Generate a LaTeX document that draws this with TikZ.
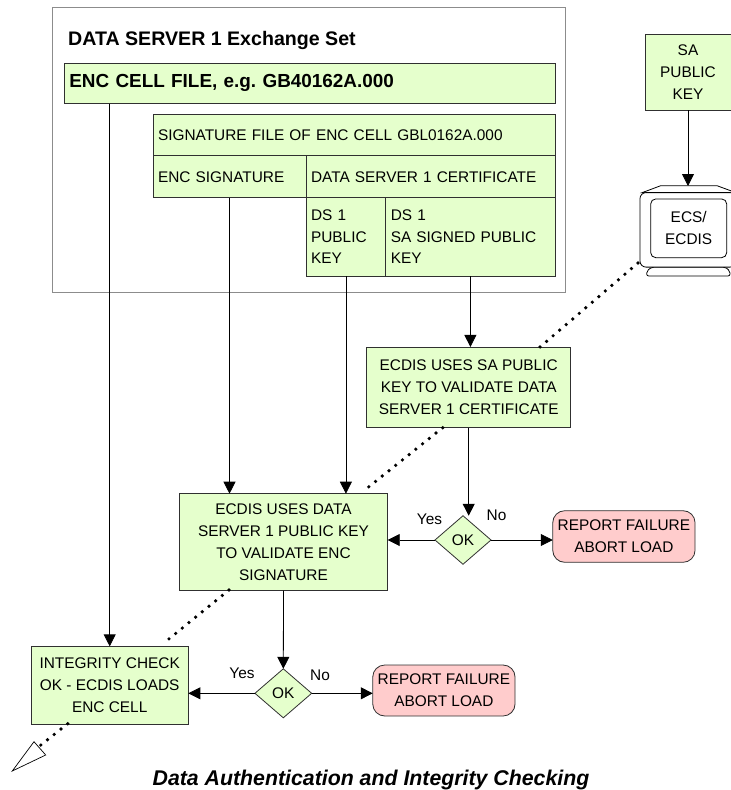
\documentclass[tikz,border=0pt]{standalone}
\usepackage{fontspec}
\setmainfont{Liberation Sans}
\frenchspacing
\usetikzlibrary{arrows.meta,positioning,shapes.geometric}
\definecolor{boxgreen}{HTML}{E5FFCC}
\definecolor{boxpink}{HTML}{FFCCCC}
\definecolor{edgegray}{HTML}{303030}
\tikzset{font=\fontsize{15.4}{21.7}\selectfont}
\tikzstyle{centerbox}=[rectangle,draw=edgegray,fill=boxgreen,line width=0.8pt,outer sep=0pt,inner sep=0pt,align=center]
\tikzstyle{leftbox}=[centerbox,align=left,inner xsep=5pt]
\tikzstyle{failbox}=[centerbox,fill=boxpink,rounded corners=12pt]
\tikzstyle{okdiamond}=[diamond,draw=edgegray,fill=boxgreen,line width=0.8pt,outer sep=0pt,inner sep=0pt]
\tikzstyle{answer}=[inner sep=0pt]
\tikzstyle{sightline}=[line width=3.7pt,line cap=round,dash pattern=on 0pt off 8.6pt]
\begin{document}
\begin{tikzpicture}
  [x=1pt,y=-1pt,>={Triangle[length=12pt,width=12pt]}]
\clip (0,0) rectangle (731,790);
% exchange set frame
\node [draw=black!45,line width=0.7pt,minimum width=512.5pt,minimum height=285pt,outer sep=0pt] (frame) at (309,149.5) {};
\node [anchor=base west,inner sep=0pt,font=\fontsize{19.6}{22}\selectfont\bfseries] (title) at (68,45) {DATA SERVER 1 Exchange Set};
\node [style=leftbox,text width=480.7pt,minimum height=40.7pt,font=\fontsize{18.9}{22}\selectfont\bfseries] (cellfile) at (309.7,83.3) {ENC CELL FILE, e.g. GB40162A.000};
\node [style=leftbox,text width=392pt,minimum height=41.7pt] (sigfile) at (354,134.8) {SIGNATURE FILE OF ENC CELL GBL0162A.000};
\node [style=leftbox,text width=143pt,minimum height=42pt] (encsig) at (229.5,176.8) {ENC SIGNATURE};
\node [style=leftbox,text width=239pt,minimum height=42pt] (cert) at (430.5,176.8) {DATA SERVER 1 CERTIFICATE};
\node [style=leftbox,text width=69.7pt,minimum height=78.5pt] (dskey) at (345.9,236.8) {DS 1\\PUBLIC\\KEY};
\node [style=leftbox,text width=159.3pt,minimum height=78.5pt] (sasigned) at (470.4,236.8) {DS 1\\SA SIGNED PUBLIC\\KEY};
% SA key and the monitor
\node [style=centerbox,minimum width=86pt,minimum height=76pt] (sakey) at (688,72) {SA\\PUBLIC\\KEY};
\coordinate (monitortop) at (688,186);
\draw [draw=black,line width=0.8pt,fill=white,rounded corners=2pt] (646.7,276) -- (646.7,271) -- (652,267) -- (725,267) -- (730,271) -- (730,276) -- cycle;
\draw [draw=black,line width=0.8pt,fill=white] (642,192.7) -- (660.7,185.7) -- (717,185.7) -- (736,192.7) -- cycle;
\node [draw=black,line width=0.8pt,fill=white,rounded corners=6pt,minimum width=96pt,minimum height=74.5pt,outer sep=0pt] (monitor) at (688,229.85) {};
\node [draw=black,line width=0.8pt,rounded corners=5pt,minimum width=76pt,minimum height=58.7pt,outer sep=0pt,inner sep=0pt,align=center] (screen) at (688.7,228.3) {ECS/\\ECDIS};
% checks
\node [style=centerbox,minimum width=204pt,minimum height=80.7pt] (sacheck) at (468.7,387.3) {ECDIS USES SA PUBLIC\\KEY TO VALIDATE DATA\\SERVER 1 CERTIFICATE};
\node [style=centerbox,minimum width=208.4pt,minimum height=97pt] (dscheck) at (283.5,542.2) {ECDIS USES DATA\\SERVER 1 PUBLIC KEY\\TO VALIDATE ENC\\SIGNATURE};
\node [style=centerbox,minimum width=157.3pt,minimum height=77.7pt] (intcheck) at (109.7,685.2) {INTEGRITY CHECK\\OK - ECDIS LOADS\\ENC CELL};
\node [style=okdiamond,minimum width=56pt,minimum height=48.5pt] (okone) at (463,540) {OK};
\node [style=okdiamond,minimum width=56.7pt,minimum height=49pt] (oktwo) at (283.3,693.3) {OK};
\node [style=failbox,minimum width=142.3pt,minimum height=51.6pt] (reportone) at (623.9,536.5) {REPORT FAILURE\\ABORT LOAD};
\node [style=failbox,minimum width=142.3pt,minimum height=51pt] (reporttwo) at (443.9,690.5) {REPORT FAILURE\\ABORT LOAD};
\node [style=answer] (yesone) at (429.5,519) {Yes};
\node [style=answer] (noone) at (496.5,515) {No};
\node [style=answer] (yestwo) at (242,673.5) {Yes};
\node [style=answer] (notwo) at (320,675) {No};
\path[->,line width=0.8pt]
(sakey.south) edge (monitortop)
(cellfile.south -| intcheck.north) edge (intcheck.north)
(encsig.south) edge (encsig.south |- dscheck.north)
(dskey.south) edge (dskey.south |- dscheck.north)
(sasigned.south) edge (sasigned.south |- sacheck.north)
(sacheck.south) edge (sacheck.south |- okone.north)
(dscheck.south) edge (oktwo.north)
(okone.west) edge (okone.west -| dscheck.east)
(okone.east) edge (okone.east -| reportone.west)
(oktwo.west) edge (oktwo.west -| intcheck.east)
(oktwo.east) edge (oktwo.east -| reporttwo.west);
% line of sight
\coordinate (sighta) at (638,263);
\coordinate (sightb) at (540,347);
\coordinate (sightc) at (442.7,427.7);
\coordinate (sightd) at (362.7,491.7);
\coordinate (sighte) at (229,590);
\coordinate (sightf) at (162.7,644);
\coordinate (sightg) at (67.7,723.7);
\coordinate (sighth) at (40,745.7);
\draw [style=sightline] (sighta) -- (sightb);
\draw [style=sightline] (sightc) -- (sightd);
\draw [style=sightline] (sighte) -- (sightf);
\draw [style=sightline] (sightg) -- (sighth);
\draw [line width=0.7pt,fill=white] (12.3,771) -- (34,741.7) -- (45.7,755) -- cycle;
\node [anchor=base,inner sep=0pt,font=\fontsize{21.3}{24}\selectfont\bfseries\itshape] (caption) at (371,785) {Data Authentication and Integrity Checking};
\end{tikzpicture}
\end{document}
